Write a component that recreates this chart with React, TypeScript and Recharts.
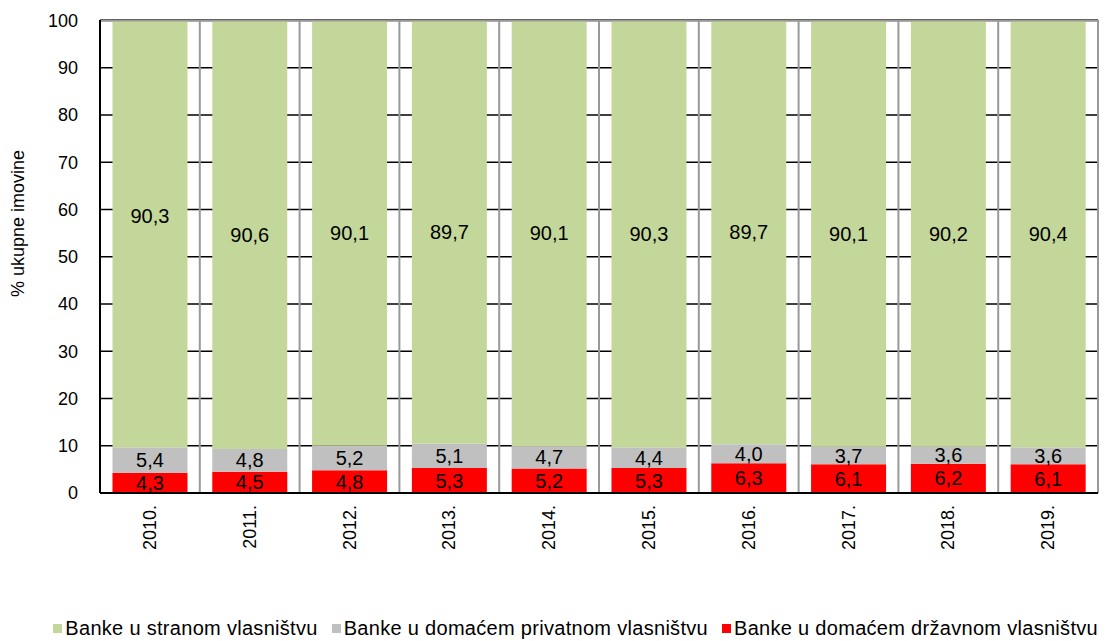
import React from 'react'
import {
  BarChart,
  Bar,
  XAxis,
  YAxis,
  CartesianGrid,
  Legend,
  LabelList,
  ReferenceLine
} from 'recharts'

const years = ['2010.', '2011.', '2012.', '2013.', '2014.', '2015.', '2016.', '2017.', '2018.', '2019.']
const drzavnom = [4.3, 4.5, 4.8, 5.3, 5.2, 5.3, 6.3, 6.1, 6.2, 6.1]
const privatnom = [5.4, 4.8, 5.2, 5.1, 4.7, 4.4, 4.0, 3.7, 3.6, 3.6]
const stranom = [90.3, 90.6, 90.1, 89.7, 90.1, 90.3, 89.7, 90.1, 90.2, 90.4]
const yTicks = [0, 10, 20, 30, 40, 50, 60, 70, 80, 90, 100]

const seriesNames = {
  stranom: 'Banke u stranom vlasništvu',
  privatnom: 'Banke u domaćem privatnom vlasništvu',
  drzavnom: 'Banke u domaćem državnom vlasništvu'
}

const COLORS = {
  stranom: '#C4D79B',
  privatnom: '#C0C0C0',
  drzavnom: '#FF0000'
}

const data = years.map((year, i) => ({
  year,
  drzavnom: drzavnom[i],
  privatnom: privatnom[i],
  stranom: stranom[i]
}))

const FONT = '"Liberation Sans", Arial, sans-serif'

const fmt = (v: any) => Number(v).toFixed(1).replace('.', ',')

const XTick = ({ x, y, payload }: any) => {
  const ty = y + 4
  return (
    <text
      x={x}
      y={ty}
      transform={`rotate(-90, ${x}, ${ty})`}
      textAnchor="end"
      dominantBaseline="central"
      fontSize={18}
      fontFamily={FONT}
      fill="#000"
    >
      {payload.value}
    </text>
  )
}

const YLabel = ({ viewBox }: any) => {
  const cx = 18
  const cy = viewBox.y + viewBox.height / 2 - 33
  return (
    <text
      x={cx}
      y={cy}
      transform={`rotate(-90, ${cx}, ${cy})`}
      textAnchor="middle"
      dominantBaseline="central"
      fontSize={18}
      fontFamily={FONT}
      fill="#000"
    >
      % ukupne imovine
    </text>
  )
}

const GreenLabel = ({ x, y, width, height, value, index }: any) => {
  // first label sits a bit higher in the original
  const dy = index === 0 ? -18 : 0
  return (
    <text
      x={x + width / 2}
      y={y + height / 2 + dy}
      textAnchor="middle"
      dominantBaseline="central"
      fontSize={20}
      fontFamily={FONT}
      fill="#000"
    >
      {fmt(value)}
    </text>
  )
}

const LegendContent = () => {
  const order: (keyof typeof COLORS)[] = ['stranom', 'privatnom', 'drzavnom']
  return (
    <div
      style={{
        display: 'flex',
        justifyContent: 'flex-end',
        alignItems: 'center',
        fontFamily: FONT,
        fontSize: 20,
        lineHeight: '22px',
        letterSpacing: 0.3,
        color: '#000',
        height: 22,
        paddingTop: 0,
        whiteSpace: 'nowrap'
      }}
    >
      {order.map((key) => (
        <div key={key} style={{ display: 'flex', alignItems: 'center', marginLeft: 14 }}>
          <span style={{ width: 9, height: 9, background: COLORS[key], marginRight: 3, display: 'inline-block' }} />
          <span>{seriesNames[key]}</span>
        </div>
      ))}
    </div>
  )
}

export default function App() {
  return (
    <div style={{ position: 'fixed', left: 0, top: 0, background: '#fff' }}>
      <BarChart
        width={1108}
        height={641}
        data={data}
        margin={{ top: 20, right: 10, left: 0, bottom: 0 }}
        barCategoryGap="12.5%"
      >
        <CartesianGrid horizontal={true} vertical={false} stroke="#000" strokeWidth={1.5} />
        <CartesianGrid
          horizontal={false}
          vertical={true}
          stroke="#999"
          strokeWidth={2}
          verticalCoordinatesGenerator={({ offset }: any) =>
            years.concat(['']).map((_, i) => offset.left + (i * offset.width) / years.length)
          }
        />
        <XAxis
          dataKey="year"
          height={124}
          tick={<XTick />}
          tickLine={false}
          axisLine={{ stroke: '#000', strokeWidth: 2 }}
          interval={0}
        />
        <YAxis
          width={100}
          domain={[0, 100]}
          ticks={yTicks}
          interval={0}
          tickLine={false}
          axisLine={{ stroke: '#000', strokeWidth: 2 }}
          tick={{ fontSize: 18, fontFamily: FONT, fill: '#000' }}
          tickMargin={16}
          label={{ content: <YLabel /> }}
        />
        <ReferenceLine y={100} stroke="#999" strokeWidth={2} />
        <Legend verticalAlign="bottom" height={24} content={<LegendContent />} />
        <Bar dataKey="drzavnom" stackId="a" fill={COLORS.drzavnom} name={seriesNames.drzavnom} isAnimationActive={false}>
          <LabelList dataKey="drzavnom" position="center" formatter={fmt} fontSize={20} fontFamily={FONT} fill="#000" />
        </Bar>
        <Bar dataKey="privatnom" stackId="a" fill={COLORS.privatnom} name={seriesNames.privatnom} isAnimationActive={false}>
          <LabelList dataKey="privatnom" position="center" formatter={fmt} fontSize={20} fontFamily={FONT} fill="#000" />
        </Bar>
        <Bar dataKey="stranom" stackId="a" fill={COLORS.stranom} name={seriesNames.stranom} isAnimationActive={false}>
          <LabelList dataKey="stranom" content={<GreenLabel />} />
        </Bar>
      </BarChart>
    </div>
  )
}
